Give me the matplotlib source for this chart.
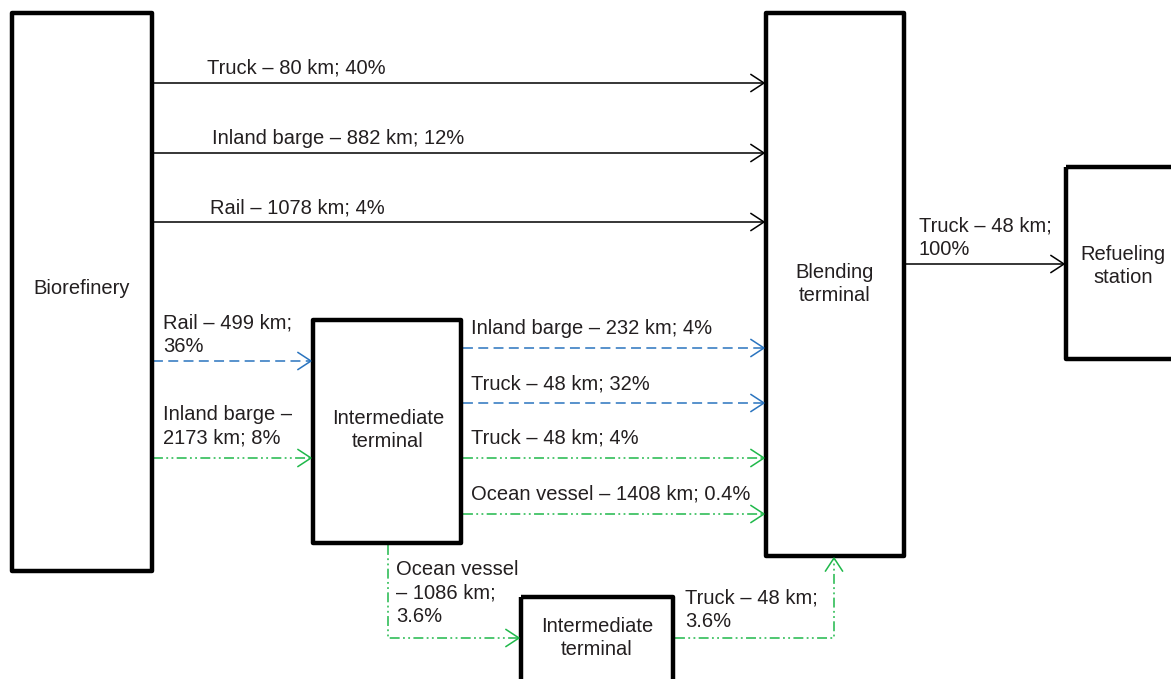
import matplotlib
matplotlib.use("Agg")
import matplotlib.pyplot as plt
from matplotlib.patches import Rectangle

plt.rcParams['font.family'] = ['Liberation Sans', 'DejaVu Sans']

# ---------------- data (labels) ----------------
box_names = ["Biorefinery", "Blending\nterminal", "Refueling\nstation",
             "Intermediate\nterminal", "Intermediate\nterminal"]
direct_labels = ["Truck – 80 km; 40%", "Inland barge – 882 km; 12%", "Rail – 1078 km; 4%"]
final_label = "Truck – 48 km;\n100%"
to_inter_labels = ["Rail – 499 km;\n36%", "Inland barge –\n2173 km; 8%"]
from_inter_labels = ["Inland barge – 232 km; 4%", "Truck – 48 km; 32%",
                     "Truck – 48 km; 4%", "Ocean vessel – 1408 km; 0.4%"]
ocean_label = "Ocean vessel\n– 1086 km;\n3.6%"
last_truck_label = "Truck – 48 km;\n3.6%"

# ---------------- layout / style ----------------
BLUE = "#2a74bf"
GREEN = "#1fb84a"
TXT = "#231f20"
BLUE_DASH = (0, (6.5, 3.5))
GREEN_DASH = (0, (6.5, 2.2, 1.2, 2.2, 1.2, 2.2))
FS = 14.5
LS = 1.3

fig = plt.figure(figsize=(11.71, 6.79), dpi=100)
ax = fig.add_axes([0, 0, 1, 1])
ax.set_xlim(0, 1171)
ax.set_ylim(679, 0)
ax.axis('off')

# boxes: (x0, y0, x1, y1)
boxes = [(12, 13, 152, 571), (766, 13, 904, 556), (1066, 167, 1180, 359),
         (313, 320, 461, 543), (521, 597, 673, 690)]
text_pos = [(82, 289), (835, 284), (1123, 266), (388, 430), (597, 638)]
for (x0, y0, x1, y1), name, (tx, ty) in zip(boxes, box_names, text_pos):
    ax.add_patch(Rectangle((x0, y0), x1 - x0, y1 - y0, fill=False, lw=3.2,
                           ec='black', joinstyle='round', zorder=3))
    ax.text(tx, ty, name, ha='center', va='center', fontsize=FS,
            linespacing=LS, color=TXT)


def head(xt, yt, dx, dy, color):
    L, W = 13, 8.5
    bx, by = xt - dx * L, yt - dy * L
    px, py = -dy * W, dx * W
    ax.plot([bx + px, xt, bx - px], [by + py, yt, by - py], color=color,
            lw=1.1, solid_joinstyle='miter', zorder=4)


def flow(xs, ys, color, ls, label=None, lx=None, ly=None):
    # ly = baseline of the last text line
    ax.plot(xs, ys, color=color, lw=1.1, linestyle=ls, zorder=2)
    dx = xs[-1] - xs[-2]
    dy = ys[-1] - ys[-2]
    n = (dx * dx + dy * dy) ** 0.5
    head(xs[-1], ys[-1], dx / n, dy / n, color)
    if label is not None:
        ax.text(lx, ly, label, ha='left', va='baseline', fontsize=FS,
                linespacing=LS, color=TXT)


# direct flows biorefinery -> blending
direct_y = [83, 153, 222]
direct_lx = [207, 212, 210]
for lab, y, lx in zip(direct_labels, direct_y, direct_lx):
    flow([153, 764], [y, y], 'black', '-', lab, lx, y - 9)

# blending -> refueling
flow([905, 1064], [264, 264], 'black', '-', final_label, 919, 255)

# biorefinery -> intermediate
flow([153, 311], [361, 361], BLUE, BLUE_DASH, to_inter_labels[0], 163, 352)
flow([153, 311], [458, 458], GREEN, GREEN_DASH, to_inter_labels[1], 163, 443)

# intermediate -> blending
fi_y = [348, 403, 458, 514]
fi_c = [BLUE, BLUE, GREEN, GREEN]
fi_s = [BLUE_DASH, BLUE_DASH, GREEN_DASH, GREEN_DASH]
for lab, y, c, s in zip(from_inter_labels, fi_y, fi_c, fi_s):
    flow([463, 764], [y, y], c, s, lab, 471, y - 14)

# ocean vessel to second intermediate terminal
flow([388, 388, 519], [545, 638, 638], GREEN, GREEN_DASH, ocean_label, 396, 622)

# truck from second intermediate to blending
flow([675, 834, 834], [638, 638, 558], GREEN, GREEN_DASH, last_truck_label, 685, 627)

fig.savefig("out.png", dpi=100)
